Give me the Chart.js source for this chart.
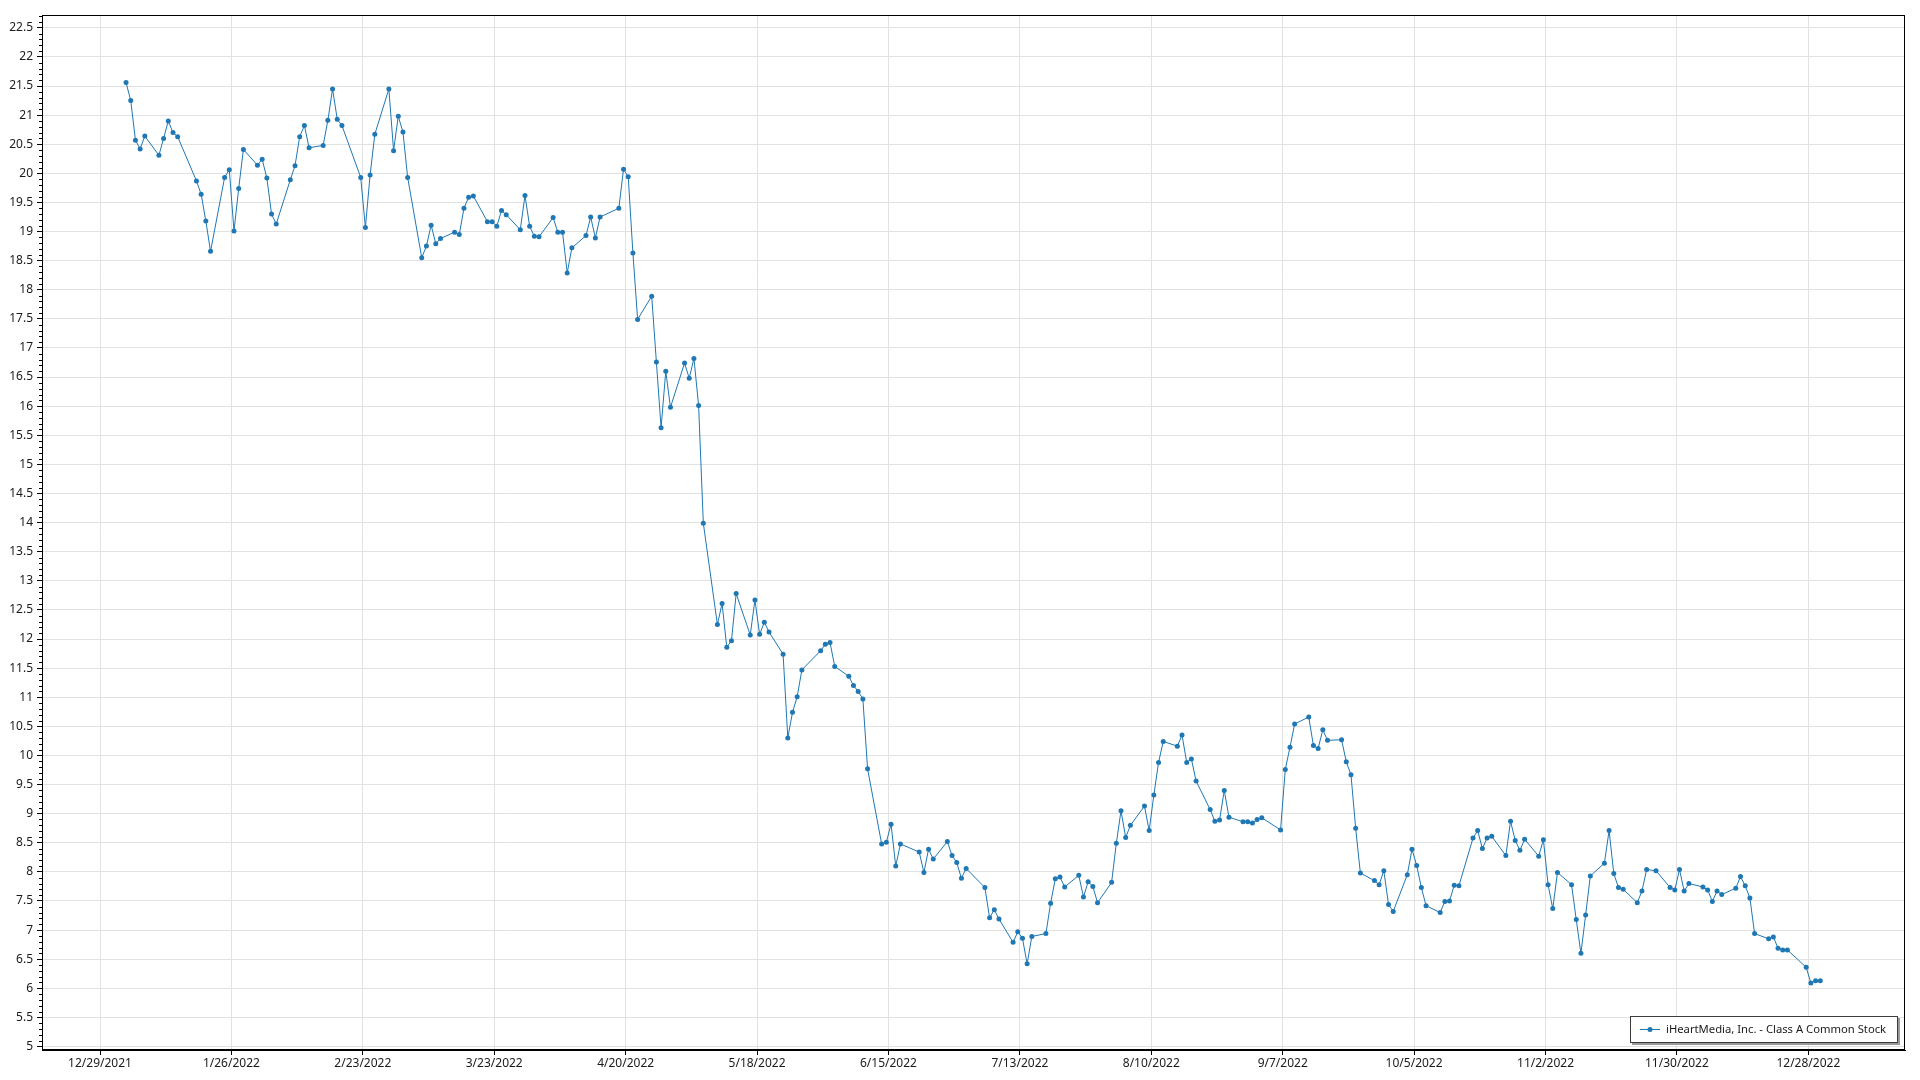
<!DOCTYPE html>
<html>
<head>
<meta charset="utf-8">
<title>iHeartMedia, Inc. - Class A Common Stock</title>
<script src="https://cdn.jsdelivr.net/npm/chart.js@4.4.0/dist/chart.umd.min.js"></script>
<style>
  html, body { margin: 0; padding: 0; background: #fff; overflow: hidden; }
</style>
</head>
<body>
<canvas id="chart" width="1920" height="1080"></canvas>
<script>
const seriesLabel = 'iHeartMedia, Inc. - Class A Common Stock';
const dataYear = 2022;

// trading days of 2022, one line per month (M/D)
const tradeDates = [
  '1/3','1/4','1/5','1/6','1/7','1/10','1/11','1/12','1/13','1/14','1/18','1/19','1/20','1/21','1/24','1/25','1/26','1/27','1/28','1/31',
  '2/1','2/2','2/3','2/4','2/7','2/8','2/9','2/10','2/11','2/14','2/15','2/16','2/17','2/18','2/22','2/23','2/24','2/25','2/28',
  '3/1','3/2','3/3','3/4','3/7','3/8','3/9','3/10','3/11','3/14','3/15','3/16','3/17','3/18','3/21','3/22','3/23','3/24','3/25','3/28','3/29','3/30','3/31',
  '4/1','4/4','4/5','4/6','4/7','4/8','4/11','4/12','4/13','4/14','4/18','4/19','4/20','4/21','4/22','4/25','4/26','4/27','4/28','4/29',
  '5/2','5/3','5/4','5/5','5/6','5/9','5/10','5/11','5/12','5/13','5/16','5/17','5/18','5/19','5/20','5/23','5/24','5/25','5/26','5/27','5/31',
  '6/1','6/2','6/3','6/6','6/7','6/8','6/9','6/10','6/13','6/14','6/15','6/16','6/17','6/21','6/22','6/23','6/24','6/27','6/28','6/29','6/30',
  '7/1','7/5','7/6','7/7','7/8','7/11','7/12','7/13','7/14','7/15','7/18','7/19','7/20','7/21','7/22','7/25','7/26','7/27','7/28','7/29',
  '8/1','8/2','8/3','8/4','8/5','8/8','8/9','8/10','8/11','8/12','8/15','8/16','8/17','8/18','8/19','8/22','8/23','8/24','8/25','8/26','8/29','8/30','8/31',
  '9/1','9/2','9/6','9/7','9/8','9/9','9/12','9/13','9/14','9/15','9/16','9/19','9/20','9/21','9/22','9/23','9/26','9/27','9/28','9/29','9/30',
  '10/3','10/4','10/5','10/6','10/7','10/10','10/11','10/12','10/13','10/14','10/17','10/18','10/19','10/20','10/21','10/24','10/25','10/26','10/27','10/28','10/31',
  '11/1','11/2','11/3','11/4','11/7','11/8','11/9','11/10','11/11','11/14','11/15','11/16','11/17','11/18','11/21','11/22','11/23','11/25','11/28','11/29','11/30',
  '12/1','12/2','12/5','12/6','12/7','12/8','12/9','12/12','12/13','12/14','12/15','12/16','12/19','12/20','12/21','12/22','12/23','12/27','12/28','12/29','12/30'
];

// closing prices, same order
const closePrices = [
  21.56,21.25,20.57,20.42,20.64,20.31,20.60,20.90,20.70,20.63,19.87,19.64,19.18,18.66,19.93,20.06,19.01,19.74,20.41,20.14,
  20.24,19.92,19.30,19.13,19.89,20.13,20.63,20.82,20.44,20.48,20.91,21.45,20.93,20.82,19.93,19.07,19.97,20.67,21.45,
  20.39,20.98,20.71,19.93,18.55,18.75,19.11,18.79,18.88,18.99,18.95,19.40,19.59,19.61,19.17,19.17,19.09,19.36,19.29,19.03,19.62,19.09,18.92,
  18.91,19.24,18.99,18.99,18.29,18.72,18.93,19.25,18.89,19.25,19.40,20.07,19.94,18.63,17.49,17.89,16.76,15.63,16.60,15.98,
  16.74,16.48,16.82,16.01,13.99,12.25,12.61,11.86,11.97,12.78,12.07,12.67,12.08,12.29,12.12,11.74,10.30,10.74,11.01,11.47,11.80,
  11.91,11.94,11.53,11.36,11.20,11.10,10.97,9.77,8.48,8.51,8.82,8.10,8.48,8.34,7.99,8.39,8.22,8.52,8.28,8.16,7.89,
  8.06,7.73,7.21,7.35,7.19,6.79,6.97,6.86,6.42,6.89,6.94,7.46,7.88,7.91,7.74,7.94,7.57,7.83,7.75,7.47,
  7.82,8.49,9.05,8.59,8.80,9.13,8.71,9.32,9.88,10.24,10.16,10.35,9.88,9.94,9.56,9.07,8.87,8.89,9.40,8.94,8.86,8.86,8.84,
  8.90,8.93,8.72,9.76,10.14,10.54,10.66,10.17,10.12,10.44,10.26,10.27,9.89,9.67,8.75,7.98,7.85,7.78,8.02,7.44,7.32,
  7.95,8.39,8.11,7.73,7.42,7.30,7.49,7.50,7.77,7.76,8.58,8.71,8.40,8.58,8.61,8.28,8.87,8.54,8.37,8.56,8.27,
  8.55,7.78,7.37,7.99,7.78,7.18,6.60,7.26,7.93,8.15,8.71,7.97,7.73,7.70,7.47,7.67,8.04,8.02,7.73,7.69,8.04,
  7.67,7.80,7.74,7.69,7.49,7.67,7.61,7.72,7.92,7.76,7.55,6.94,6.85,6.88,6.69,6.66,6.66,6.36,6.09,6.13,6.13
];

const xTickLabels = [
  '12/29/2021','1/26/2022','2/23/2022','3/23/2022','4/20/2022','5/18/2022','6/15/2022',
  '7/13/2022','8/10/2022','9/7/2022','10/5/2022','11/2/2022','11/30/2022','12/28/2022'
];

const yTickValues = [5,5.5,6,6.5,7,7.5,8,8.5,9,9.5,10,10.5,11,11.5,12,12.5,13,13.5,14,14.5,15,15.5,16,16.5,17,17.5,18,18.5,19,19.5,20,20.5,21,21.5,22,22.5];

const lineColor = '#1f77b4';
const fontFamily = '"Segoe UI", "Noto Sans", "Open Sans", sans-serif';

// days are counted from the first axis tick (12/29/2021)
const dayZero = Date.UTC(2021, 11, 29);
const toDay = (m, d, y) => (Date.UTC(y, m - 1, d) - dayZero) / 86400000;
// quotes are stamped in the afternoon, not at midnight
const quoteTime = 0.55;

const points = tradeDates.map((s, i) => {
  const [m, d] = s.split('/').map(Number);
  return { x: toDay(m, d, dataYear) + quoteTime, y: closePrices[i] };
});

const xTickDays = xTickLabels.map(s => {
  const [m, d, y] = s.split('/').map(Number);
  return toDay(m, d, y);
});

// frame, minor ticks and the legend box
const extras = {
  id: 'extras',
  afterDraw(chart) {
    const { ctx, chartArea: a, scales } = chart;
    ctx.save();

    // minor ticks on the value axis
    ctx.strokeStyle = '#000';
    ctx.lineWidth = 1;
    ctx.beginPath();
    for (let i = 49; i <= 227; i++) {
      if (i % 5 === 0) continue;
      const y = Math.round(scales.y.getPixelForValue(i / 10)) + 0.5;
      if (y < a.top || y > a.bottom) continue;
      ctx.moveTo(a.left - 3, y);
      ctx.lineTo(a.left, y);
    }
    ctx.stroke();

    // plot frame
    ctx.strokeRect(Math.round(a.left) + 0.5, Math.round(a.top) + 0.5,
      Math.round(a.right - a.left) - 1, Math.round(a.bottom - a.top) - 1);

    // legend
    const w = 268, h = 27;
    const lx = Math.round(a.right) - 7 - w, ly = Math.round(a.bottom) - 7 - h;
    ctx.fillStyle = '#9a9a9a';
    ctx.fillRect(lx + 2, ly + 2, w, h);
    ctx.fillStyle = '#fff';
    ctx.fillRect(lx, ly, w, h);
    ctx.strokeStyle = '#3c3c3c';
    ctx.strokeRect(lx + 0.5, ly + 0.5, w - 1, h - 1);

    const cy = ly + h / 2;
    ctx.strokeStyle = lineColor;
    ctx.beginPath();
    ctx.moveTo(lx + 10, cy);
    ctx.lineTo(lx + 30, cy);
    ctx.stroke();
    ctx.fillStyle = lineColor;
    ctx.beginPath();
    ctx.arc(lx + 20, cy, 2.5, 0, Math.PI * 2);
    ctx.fill();

    // shrink the font until the label fits the box like the original
    let size = 12;
    ctx.font = size + 'px ' + fontFamily;
    while (ctx.measureText(seriesLabel).width > 222 && size > 9) {
      size -= 0.25;
      ctx.font = size + 'px ' + fontFamily;
    }
    ctx.fillStyle = '#1a1a1a';
    ctx.textBaseline = 'middle';
    ctx.textAlign = 'left';
    ctx.fillText(seriesLabel, lx + 36, cy);
    ctx.restore();
  }
};

new Chart(document.getElementById('chart'), {
  type: 'line',
  data: {
    datasets: [{
      label: seriesLabel,
      data: points,
      borderColor: lineColor,
      backgroundColor: lineColor,
      borderWidth: 1,
      pointRadius: 2.5,
      pointBorderWidth: 0,
      pointBackgroundColor: lineColor,
      tension: 0,
      fill: false
    }]
  },
  options: {
    responsive: false,
    animation: false,
    devicePixelRatio: 1,
    layout: { padding: { top: 15, right: 15, left: 0, bottom: 0 } },
    plugins: {
      legend: { display: false },
      tooltip: { enabled: false }
    },
    scales: {
      x: {
        type: 'linear',
        min: -12.36,
        max: 384.6,
        afterFit: s => { s.height = 30; },
        afterBuildTicks: s => { s.ticks = xTickDays.map(v => ({ value: v })); },
        grid: { color: '#e2e2e2', tickColor: '#000', tickLength: 5 },
        border: { color: '#000' },
        ticks: {
          callback: (v, i) => xTickLabels[i],
          autoSkip: false,
          maxRotation: 0,
          padding: 1,
          color: '#1a1a1a',
          font: { family: fontFamily, size: 12 }
        }
      },
      y: {
        min: 4.94,
        max: 22.72,
        afterFit: s => { s.width = 42; },
        afterBuildTicks: s => { s.ticks = yTickValues.map(v => ({ value: v })); },
        grid: { color: '#e2e2e2', tickColor: '#000', tickLength: 5 },
        border: { color: '#000' },
        ticks: {
          callback: v => String(v),
          padding: 4,
          color: '#1a1a1a',
          font: { family: fontFamily, size: 12 }
        }
      }
    }
  },
  plugins: [extras]
});
</script>
</body>
</html>
